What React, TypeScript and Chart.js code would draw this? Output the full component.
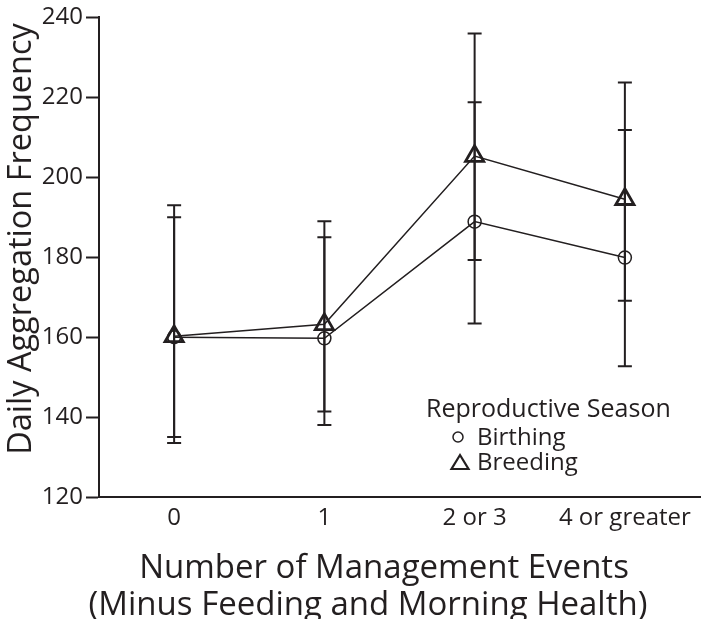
import React, { useEffect, useRef } from "react";
import { Chart, registerables } from "chart.js";

Chart.register(...registerables);

// ---- data ----
const categories = ["0", "1", "2 or 3", "4 or greater"];
const birthingMean = [160.0, 159.7, 188.9, 179.9];
const birthingUpper = [190.0, 185.0, 218.8, 211.8];
const birthingLower = [133.5, 138.0, 163.4, 152.7];
const breedingMean = [160.2, 163.2, 205.3, 194.5];
const breedingUpper = [193.0, 189.0, 236.0, 223.7];
const breedingLower = [135.0, 141.4, 179.3, 169.1];
const yMin = 120;
const yMax = 240;
const yStep = 20;

const seriesNames = ["Birthing", "Breeding"];
const legendTitle = "Reproductive Season";
const yTitle = "Daily Aggregation Frequency";
const xTitle = ["Number of Management Events", "(Minus Feeding and Morning Health)"];

const FONT = "'Open Sans', 'Noto Sans', sans-serif";
const INK = "#231f20";

const errorBars = [
  { upper: birthingUpper, lower: birthingLower },
  { upper: breedingUpper, lower: breedingLower },
];

const bgPlugin = {
  id: "bg",
  beforeDraw(chart: any) {
    const { ctx, width, height } = chart;
    ctx.save();
    ctx.fillStyle = "#ffffff";
    ctx.fillRect(0, 0, width, height);
    ctx.restore();
  },
};

const errorBarPlugin = {
  id: "errorBars",
  beforeDatasetsDraw(chart: any) {
    const { ctx } = chart;
    const xs = chart.scales.x;
    const ys = chart.scales.y;
    ctx.save();
    ctx.strokeStyle = INK;
    ctx.lineWidth = 2;
    errorBars.forEach(({ upper, lower }) => {
      upper.forEach((u: number, i: number) => {
        const px = xs.getPixelForValue(i);
        const top = ys.getPixelForValue(u);
        const bot = ys.getPixelForValue(lower[i]);
        ctx.beginPath();
        ctx.moveTo(px, top);
        ctx.lineTo(px, bot);
        ctx.moveTo(px - 7, top);
        ctx.lineTo(px + 7, top);
        ctx.moveTo(px - 7, bot);
        ctx.lineTo(px + 7, bot);
        ctx.stroke();
      });
    });
    ctx.restore();
  },
};

const textPlugin = {
  id: "texts",
  afterDraw(chart: any) {
    const { ctx } = chart;
    ctx.save();
    ctx.fillStyle = INK;
    ctx.strokeStyle = INK;
    // y title
    ctx.font = `32.5px ${FONT}`;
    ctx.textAlign = "center";
    ctx.textBaseline = "middle";
    ctx.save();
    ctx.translate(22, 239);
    ctx.rotate(-Math.PI / 2);
    ctx.fillText(yTitle, 0, 0);
    ctx.restore();
    // x title
    ctx.font = `33px ${FONT}`;
    ctx.fillText(xTitle[0], 384, 569);
    ctx.fillText(xTitle[1], 368, 606);
    // legend
    ctx.textAlign = "left";
    ctx.textBaseline = "alphabetic";
    ctx.font = `25px ${FONT}`;
    ctx.fillText(legendTitle, 426, 417);
    ctx.font = `24px ${FONT}`;
    ctx.fillText(seriesNames[0], 477, 445);
    ctx.fillText(seriesNames[1], 477, 470);
    // legend symbols
    ctx.lineWidth = 1.5;
    ctx.beginPath();
    ctx.arc(458, 437, 5, 0, Math.PI * 2);
    ctx.stroke();
    ctx.lineWidth = 2.2;
    ctx.beginPath();
    ctx.moveTo(460, 455);
    ctx.lineTo(468.5, 469);
    ctx.lineTo(451.5, 469);
    ctx.closePath();
    ctx.stroke();
    ctx.restore();
  },
};

export default function App() {
  const ref = useRef<HTMLCanvasElement | null>(null);

  useEffect(() => {
    if (!ref.current) return;
    const chart = new Chart(ref.current, {
      type: "line",
      data: {
        labels: categories,
        datasets: [
          {
            label: seriesNames[0],
            data: birthingMean,
            borderColor: INK,
            borderWidth: 1.5,
            backgroundColor: "rgba(0,0,0,0)",
            pointStyle: "circle",
            pointRadius: 6.5,
            pointBorderWidth: 1.5,
            pointBorderColor: INK,
            pointBackgroundColor: "rgba(0,0,0,0)",
            tension: 0,
          },
          {
            label: seriesNames[1],
            data: breedingMean,
            borderColor: INK,
            borderWidth: 1.5,
            backgroundColor: "rgba(0,0,0,0)",
            pointStyle: "triangle",
            pointRadius: 10.5,
            pointBorderWidth: 2.8,
            pointBorderColor: INK,
            pointBackgroundColor: "rgba(0,0,0,0)",
            tension: 0,
          },
        ],
      },
      options: {
        responsive: false,
        animation: false,
        devicePixelRatio: 1,
        layout: { autoPadding: false, padding: { top: 16, right: 1, left: 0, bottom: 0 } },
        plugins: {
          legend: { display: false },
          tooltip: { enabled: false },
          title: { display: false },
        },
        scales: {
          x: {
            type: "category",
            offset: true,
            grid: { display: false, drawTicks: false },
            border: { display: true, color: INK, width: 2 },
            ticks: {
              color: INK,
              font: { family: FONT, size: 24 },
              padding: 7,
              maxRotation: 0,
              autoSkip: false,
            },
            afterFit(scale: any) {
              scale.height = 122;
              scale.paddingLeft = 0;
              scale.paddingRight = 0;
            },
          },
          y: {
            type: "linear",
            min: yMin,
            max: yMax,
            grid: {
              display: true,
              drawOnChartArea: false,
              drawTicks: true,
              tickLength: 13,
              tickWidth: 2,
              tickColor: INK,
            },
            border: { display: true, color: INK, width: 2 },
            ticks: {
              stepSize: yStep,
              color: INK,
              font: { family: FONT, size: 24 },
              padding: 3,
            },
            afterFit(scale: any) {
              scale.width = 99;
            },
          },
        },
      },
      plugins: [bgPlugin, errorBarPlugin, textPlugin],
    });
    return () => chart.destroy();
  }, []);

  return (
    <div style={{ position: "fixed", left: 0, top: 0, width: 701, height: 619, background: "#fff" }}>
      <canvas ref={ref} width={701} height={619} style={{ width: 701, height: 619, display: "block" }} />
    </div>
  );
}
